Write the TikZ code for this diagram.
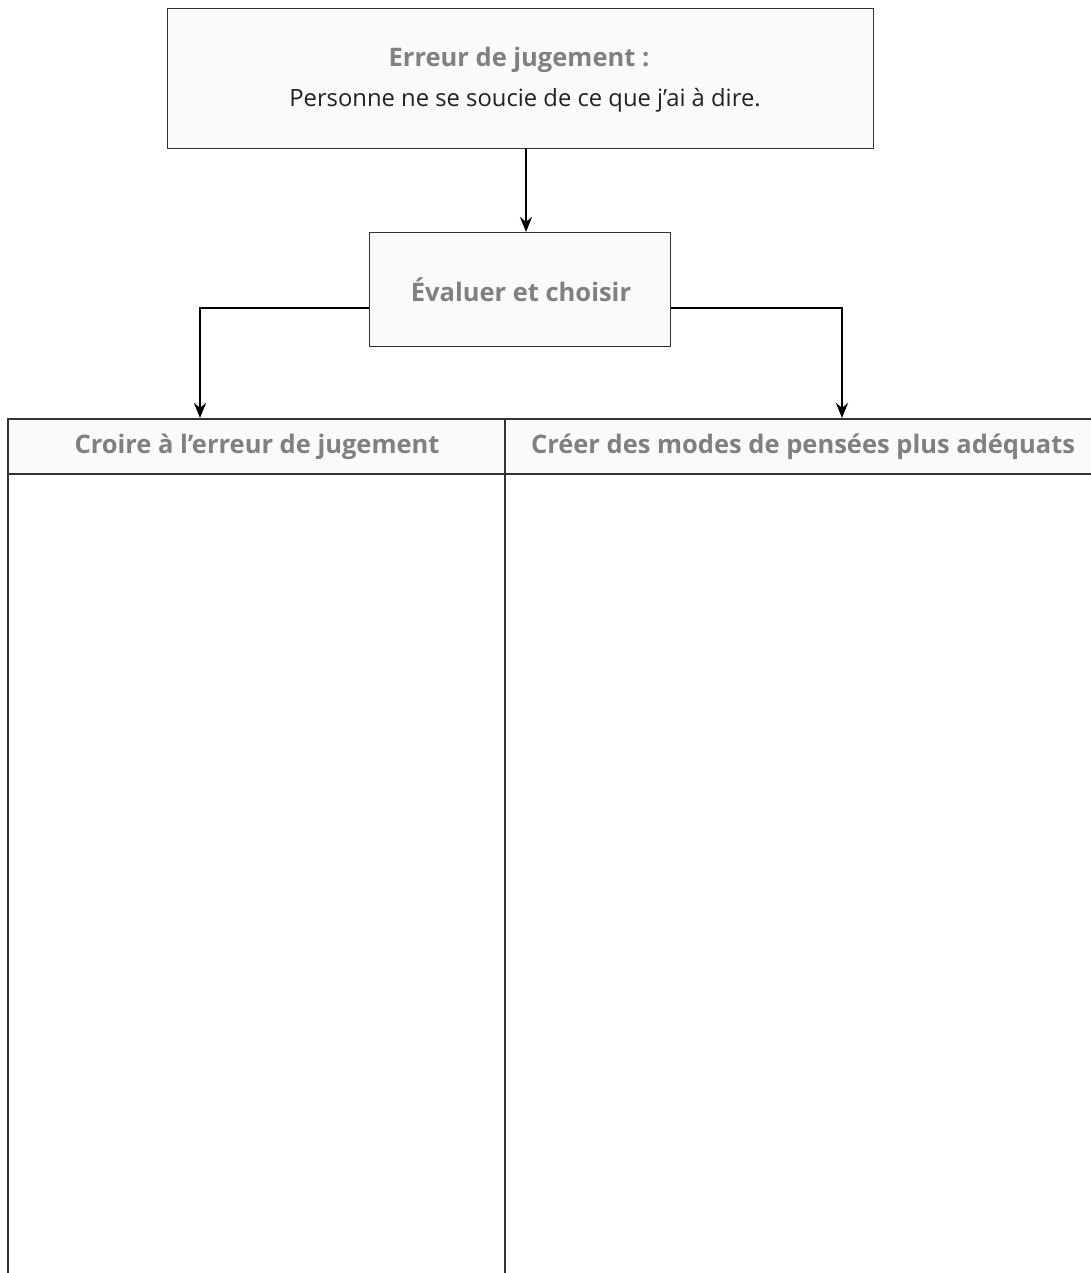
\documentclass[tikz,border=0pt]{standalone}
\usepackage{fontspec}
\setmainfont{Open Sans}
\usetikzlibrary{arrows.meta}
\definecolor{boxfill}{HTML}{F9FAFA}
\definecolor{boxline}{HTML}{333333}
\definecolor{titlegray}{HTML}{808080}
\definecolor{bodytext}{HTML}{222222}
\tikzset{
  flowbox/.style={draw=boxline, line width=1.2pt, fill=boxfill, inner sep=0pt},
  conn/.style={line width=2.6pt, black, -{Stealth[length=15pt,width=12pt]}},
  titletext/.style={font=\bfseries\fontsize{25.5}{30}\selectfont, text=titlegray},
  bodytxt/.style={font=\fontsize{23.8}{28}\selectfont, text=bodytext},
}
\begin{document}
\begin{tikzpicture}[x=1pt,y=-1pt]
\useasboundingbox (0,0) rectangle (1091,1273);
% top box
\node[flowbox, minimum width=706pt, minimum height=140pt, anchor=north west] (top) at (167,8) {};
\node[titletext] (toptitle) at (519,60) {Erreur de jugement :};
\node[bodytxt] (topbody) at (525,100) {Personne ne se soucie de ce que j’ai à dire.};
% middle box
\node[flowbox, minimum width=301pt, minimum height=114pt, anchor=north west] (mid) at (369,232) {};
\node[titletext] (midtext) at (521,290) {Évaluer et choisir};
% table
\begin{scope}
\clip (0,0) rectangle (1091,1273);
\fill[boxfill] (8,419) rectangle (1100,474);
\draw[boxline, line width=1.2pt] (8,1290) -- (8,419) -- (1100,419);
\draw[boxline, line width=1.2pt] (8,474) -- (1100,474);
\draw[boxline, line width=1.2pt] (505,419) -- (505,1290);
\end{scope}
\coordinate (lefttarget) at (200,418);
\coordinate (righttarget) at (842,418);
\node[titletext] (lefthead) at (257,447) {Croire à l’erreur de jugement};
\node[titletext] (righthead) at (803,447) {Créer des modes de pensées plus adéquats};
% connectors
\draw[conn] (top.south -| 526,0) -- (mid.north -| 526,0);
\draw[conn] (mid.west |- 0,308) -| (lefttarget);
\draw[conn] (mid.east |- 0,308) -| (righttarget);
\end{tikzpicture}
\end{document}
